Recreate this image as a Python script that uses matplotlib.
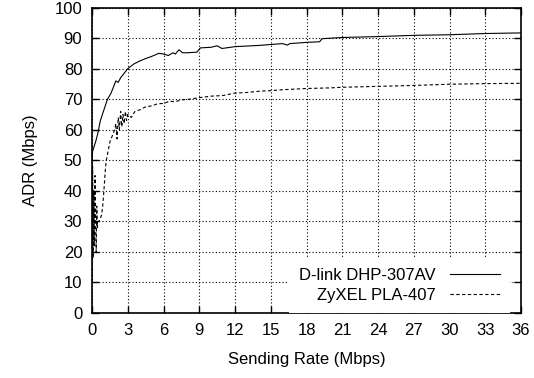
import matplotlib
matplotlib.use('Agg')
import matplotlib.pyplot as plt

plt.rcParams['font.family'] = ['Liberation Sans', 'DejaVu Sans']

# D-link DHP-307AV (solid)
x_dlink = [0, 0.05, 0.3, 0.5, 0.7, 1.0, 1.3, 1.6, 2.0, 2.2, 2.4, 2.7, 3.0, 3.5,
           4.0, 4.5, 5.0, 5.6, 6.0, 6.4, 6.8, 7.0, 7.3, 7.6, 8.0, 8.8, 9.1, 10.0,
           10.5, 10.9, 12.0, 14.0, 16.0, 16.4, 16.6, 18.0, 19.1, 19.3, 21.0, 24.0,
           27.0, 30.0, 33.0, 36.0]
y_dlink = [50, 53, 56, 59, 63, 66.5, 70, 72, 76, 75.5, 77, 78.5, 80, 81.5,
           82.5, 83.3, 84, 85, 84.8, 84.3, 85.2, 84.8, 86.2, 85.2, 85.2, 85.4, 86.8, 87.0,
           87.5, 86.6, 87.2, 87.6, 88.2, 87.7, 88.2, 88.6, 88.8, 89.8, 90.2, 90.5,
           90.9, 91.1, 91.5, 91.7]

# ZyXEL PLA-407 (dashed)
x_zyxel = [0, 0.05, 0.1, 0.15, 0.2, 0.25, 0.3, 0.35, 0.4, 0.45, 0.5, 0.6, 0.7,
           0.8, 0.9, 1.0, 1.1, 1.2, 1.3, 1.5, 1.7, 1.9, 2.0, 2.1, 2.2, 2.3, 2.4,
           2.5, 2.6, 2.7, 2.8, 2.9, 3.0, 3.3, 3.6, 4.0, 4.5, 5.0, 5.5, 6.0, 6.5,
           7.0, 7.5, 8.0, 9.0, 10.0, 11.0, 12.0, 13.0, 14.0, 15.0, 16.0, 18.0,
           20.0, 21.0, 24.0, 27.0, 30.0, 33.0, 36.0]
y_zyxel = [10, 48, 18, 40, 22, 45, 30, 20, 35, 28, 30, 30, 31,
           32, 35, 40, 46, 50, 52, 56, 58, 60, 62, 57, 64, 60, 66,
           61, 65, 62, 66, 63, 65, 64, 66, 66.5, 67.5, 67.8, 68.5, 68.6, 69.3,
           69.2, 69.8, 69.9, 70.5, 71.0, 71.2, 72.0, 72.2, 72.6, 72.8, 73.1, 73.5,
           73.7, 73.9, 74.2, 74.5, 74.9, 75.1, 75.2]

xticks = list(range(0, 37, 3))
yticks = list(range(0, 101, 10))

fig = plt.figure(figsize=(5.34, 3.78), dpi=100)
ax = fig.add_axes([0.1723, 0.172, 0.8034, 0.808])

ax.plot(x_dlink, y_dlink, color='black', lw=0.8, label='D-link DHP-307AV')
ax.plot(x_zyxel, y_zyxel, color='black', lw=0.8, dashes=(3, 2.2), label='ZyXEL PLA-407')

ax.set_xlim(0, 36)
ax.set_ylim(0, 100)
ax.set_xticks(xticks)
ax.set_yticks(yticks)
ax.grid(True, color='black', linestyle=(0, (1, 2)), lw=0.8)
ax.tick_params(direction='in', length=5, width=1, top=True, right=True, labelsize=12, pad=7)
for s in ax.spines.values():
    s.set_linewidth(1.2)

ax.set_xlabel('Sending Rate (Mbps)', fontsize=12, labelpad=10)
ax.set_ylabel('ADR (Mbps)', fontsize=12, labelpad=12)

leg = ax.legend(loc='lower right', bbox_to_anchor=(0.975, 0.0), markerfirst=False,
                frameon=True, fontsize=12, handlelength=3.0, handletextpad=0.9,
                borderaxespad=0.0, borderpad=0.6, labelspacing=0.28, fancybox=False)
leg.get_frame().set_edgecolor('none')
leg.get_frame().set_facecolor('white')
leg.get_frame().set_alpha(1)
for t in leg.get_texts():
    t.set_ha('right')

fig.savefig('out.png', dpi=100)
